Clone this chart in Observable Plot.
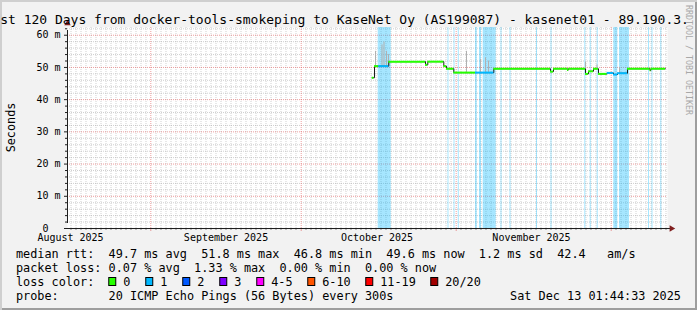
<!DOCTYPE html>
<html><head><meta charset="utf-8">
<script src="https://cdn.jsdelivr.net/npm/d3@7"></script>
<script src="https://cdn.jsdelivr.net/npm/@observablehq/plot@0.6"></script>
<style>
html,body{margin:0;padding:0;background:#f2f2f2;}
#wrap{position:relative;width:697px;height:310px;overflow:hidden;background:#f2f2f2;
  box-shadow: inset 2px 2px 0 #cfcfcf, inset -2px -2px 0 #9e9e9e;}
#wrap svg{position:absolute;left:0;top:0;}
</style></head><body><div id="wrap"></div>
<script>
// ---------- text ----------
const titleText = "Last 120 Days from docker-tools-smokeping to KaseNet Oy (AS199087) - kasenet01 - 89.190.3.";
const yAxisTitle = "Seconds";
const watermark = "RRDTOOL / TOBI OETIKER";

// ---------- axes (x in days since start of the 120-day window, y in ms) ----------
const yTicks = [0, 10, 20, 30, 40, 50, 60];
const yTickLabels = ["0\u00a0\u00a0", "10 m", "20 m", "30 m", "40 m", "50 m", "60 m"];
const monthGridDay = [16.66, 46.74, 77.74, 108.74];
const monthLabelDay = [0.6, 31.7, 61.9, 92.8];
const monthLabels = ["August 2025", "September 2025", "October 2025", "November 2025"];

// ---------- median rtt (step segments) ----------
const segStart  = [60.94, 61.4, 62.26, 64.26, 71.6, 72.06, 75.26, 75.8, 77.26, 81.6, 85.26, 96.6, 97.2, 100.0, 100.2, 103.6, 104.2, 105.2, 106.2, 107.94, 109.2, 110.0, 112.0, 116.5, 116.7];
const segEnd    = [61.3, 62.26, 64.26, 71.6, 72.06, 75.26, 75.8, 77.26, 81.6, 85.26, 96.6, 97.2, 100.0, 100.2, 103.6, 104.2, 105.2, 106.2, 107.94, 109.2, 110.0, 112.0, 116.5, 116.7, 119.6];
const segMedian = [46.8, 50.4, 50.4, 51.8, 50.8, 51.8, 50.4, 49.6, 48.4, 48.4, 49.6, 48.7, 49.6, 49.2, 49.6, 48.0, 48.8, 49.6, 48.0, 48.3, 47.8, 48.2, 49.6, 49.1, 49.6];
const segLoss   = [0, 0, 1, 0, 0, 0, 0, 0, 0, 1, 0, 0, 0, 0, 0, 0, 0, 0, 0, 1, 1, 1, 0, 0, 0];

// ---------- packet-loss background bars ----------
const bandStart = [62.14, 76.1, 77.3, 78.16, 81.6, 82.4, 83.14, 86.7, 88.5, 93.8, 96.7, 103.46, 104.54, 105.94, 109.26, 110.4, 116.2, 116.9, 118.66];
const bandEnd   = [64.74, 76.3, 77.5, 78.36, 81.94, 82.8, 85.74, 86.9, 88.7, 94.0, 96.9, 103.66, 104.74, 106.14, 110.06, 112.4, 116.4, 117.1, 118.86];

// ---------- smoke (ping spread) ----------
const smokeDay  = [61.6, 62.9, 63.3, 63.8, 64.2, 79.8, 82.6, 83.6, 84.2, 103.6, 105.9, 110.4];
const smokeLow  = [50.4, 50.4, 50.4, 50.4, 50.4, 48.4, 48.4, 48.4, 48.4, 49.6, 49.6, 48.2];
const smokeHigh = [55.0, 57.0, 57.9, 55.0, 54.0, 55.0, 52.5, 53.0, 52.0, 51.6, 50.8, 50.0];

// ---------- legend ----------
const lossLabels = ["0", "1", "2", "3", "4-5", "6-10", "11-19", "20/20"];
const lossColors = ["#26ff00", "#00b8ff", "#0059ff", "#7e00ff", "#ff00ff", "#ff5500", "#ff0000", "#a10000"];
const rttStats = ["49.7 ms avg", "51.8 ms max", "46.8 ms min", "49.6 ms now", "1.2 ms sd", "42.4   am/s"];
const lossStats = ["0.07 % avg", "1.33 % max", "0.00 % min", "0.00 % now"];
const probeText = "20 ICMP Echo Pings (56 Bytes) every 300s";
const stampText = "Sat Dec 13 01:44:33 2025";

// ---------- build ----------
const mono = "DejaVu Sans Mono";
const xDomain = [0, 120], yDomain = [0, 62.4];
const gridColor = "rgba(150,150,150,0.45)";
const mgridColor = "rgba(222,79,79,0.55)";
const axisColor = "#1f1f1f";
const arrowColor = "#801f1f";

const segs = segStart.map((s, i) => ({x1: s, x2: segEnd[i], y: segMedian[i], loss: segLoss[i]}));
const stepPts = segs.map(d => ({x: d.x1, y: d.y})).concat([{x: segs[segs.length - 1].x2, y: segs[segs.length - 1].y}]);
const bands = bandStart.map((s, i) => ({x1: s, x2: bandEnd[i]}));
const smoke = smokeDay.map((d, i) => ({x: d, lo: smokeLow[i], hi: smokeHigh[i]}));
const minorDays = d3.range(0.7, 120, 1).filter(d => !monthGridDay.some(m => Math.abs(m - d) < 0.3));
const minorMs = d3.range(2, 62.4, 2).filter(v => v % 10 !== 0);
const majorMs = yTicks.filter(v => v > 0);

const chart = Plot.plot({
  width: 697, height: 310,
  marginLeft: 67, marginRight: 30, marginTop: 27, marginBottom: 82,
  x: {domain: xDomain, axis: null},
  y: {domain: yDomain, axis: null},
  style: {background: "transparent", overflow: "visible"},
  marks: [
    Plot.frame({fill: "white", stroke: null}),
    Plot.ruleX(minorDays, {stroke: gridColor, strokeDasharray: "1,1"}),
    Plot.ruleY(minorMs, {stroke: gridColor, strokeDasharray: "1,1"}),
    Plot.ruleX(monthGridDay, {stroke: mgridColor, strokeDasharray: "1,1"}),
    Plot.ruleY(majorMs, {stroke: mgridColor, strokeDasharray: "1,1"}),
    Plot.rect(bands, {x1: "x1", x2: "x2", y1: yDomain[0], y2: yDomain[1], fill: "#00b8ff", fillOpacity: 0.35}),
    Plot.ruleX(smoke, {x: "x", y1: "lo", y2: "hi", stroke: "#b0b0b0"}),
    Plot.line(stepPts, {x: "x", y: "y", curve: "step-after", stroke: "#1a1a1a", strokeWidth: 1}),
    Plot.ruleY(segs, {y: "y", x1: "x1", x2: "x2", stroke: d => lossColors[d.loss], strokeWidth: 2}),
    // axis ticks
    Plot.ruleY(minorMs, {x1: xDomain[0], x2: xDomain[0], insetLeft: -2, stroke: axisColor}),
    Plot.ruleY(yTicks, {x1: xDomain[0], x2: xDomain[0], insetLeft: -3, stroke: axisColor}),
    Plot.ruleX(minorDays, {y1: yDomain[0], y2: yDomain[0], insetBottom: -2, stroke: "#888"}),
    Plot.ruleX(monthGridDay, {y1: yDomain[0], y2: yDomain[0], insetBottom: -3, stroke: mgridColor}),
    // axis lines
    Plot.ruleX([xDomain[0]], {y1: yDomain[0], y2: yDomain[1], insetTop: -5, insetBottom: -3, stroke: axisColor}),
    Plot.ruleY([yDomain[0]], {x1: xDomain[0], x2: xDomain[1], insetLeft: -3, insetRight: -4, stroke: axisColor}),
    Plot.dot([0], {x: xDomain[1], y: yDomain[0], dx: 4, symbol: "triangle", r: 2.4, fill: arrowColor, stroke: null, rotate: 90}),
    Plot.dot([0], {x: xDomain[0], y: yDomain[1], dy: -4, symbol: "triangle", r: 2.4, fill: arrowColor, stroke: null}),
    // tick labels
    Plot.text(yTicks, {y: d => d, text: (d, i) => yTickLabels[i], frameAnchor: "left", dx: -7, textAnchor: "end",
      fontFamily: mono, fontSize: 10, fill: "black"}),
    Plot.text(monthLabelDay, {x: d => d, text: (d, i) => monthLabels[i], frameAnchor: "bottom", dy: 9,
      lineAnchor: "middle", fontFamily: mono, fontSize: 10, fill: "black"})
  ]
});
document.getElementById("wrap").appendChild(chart);

// ---------- title, unit label, watermark, legend ----------
const svg = d3.select(chart);
const addText = (x, y, txt, size, anchor = "start") =>
  svg.append("text").attr("x", x).attr("y", y).attr("font-family", mono).attr("font-size", size)
    .attr("text-anchor", anchor).attr("fill", "black").attr("xml:space", "preserve")
    .style("white-space", "pre").text(txt);

addText(-15.5, 23.5, titleText, 13);
addText(0, 0, yAxisTitle, 11.8, "middle").attr("transform", "translate(15,127.5) rotate(-90)");
addText(0, 0, watermark, 8.3, "start").attr("fill", "#a8a8a8").attr("transform", "translate(685.5,5) rotate(90)");

const lx = 16, fs = 11.83, cw = 7.12;
const rows = [257.5, 271.8, 286, 300.2];
addText(lx, rows[0], "median rtt:  " + rttStats.join("  "), fs);
addText(lx, rows[1], "packet loss: " + lossStats.join("  "), fs);
addText(lx, rows[2], "loss color:", fs);
let bx = lx + 13 * cw - 0.3;
lossLabels.forEach((lab, i) => {
  svg.append("rect").attr("x", bx + 0.5).attr("y", rows[2] - 9 + 0.5).attr("width", 7).attr("height", 8)
    .attr("fill", lossColors[i]).attr("stroke", "black").attr("stroke-width", 1);
  addText(bx + 15, rows[2], lab, fs);
  bx += 30 + lab.length * 7.0;
});
addText(lx, rows[3], "probe:       " + probeText, fs);
addText(681, rows[3], stampText, fs, "end");
</script></body></html>
